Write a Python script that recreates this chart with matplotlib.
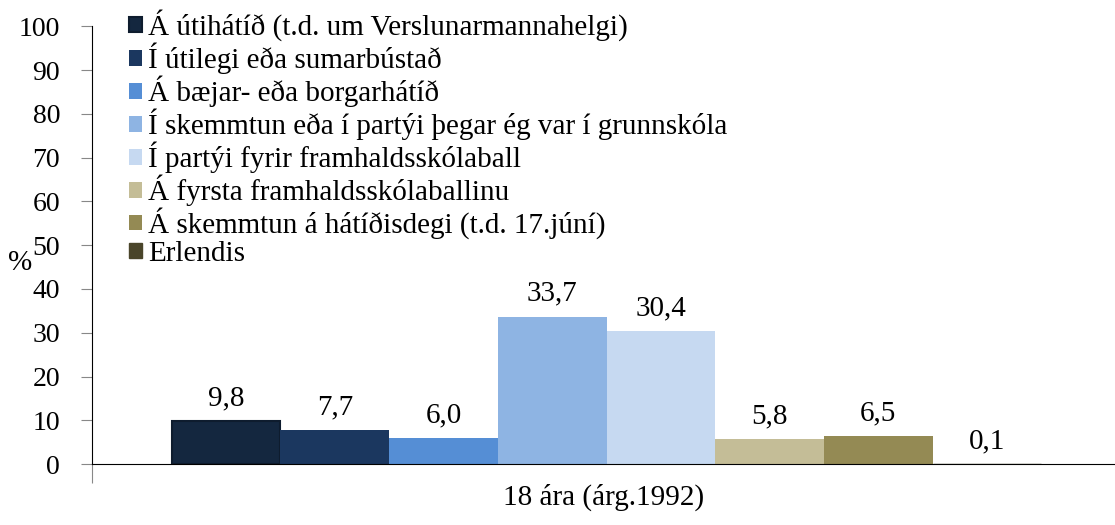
import matplotlib
matplotlib.use("Agg")
import matplotlib.pyplot as plt

# data
categories = [
    "Á útihátíð (t.d. um Verslunarmannahelgi)",
    "Í útilegi eða sumarbústað",
    "Á bæjar- eða borgarhátíð",
    "Í skemmtun eða í partýi þegar ég var í grunnskóla",
    "Í partýi fyrir framhaldsskólaball",
    "Á fyrsta framhaldsskólaballinu",
    "Á skemmtun á hátíðisdegi (t.d. 17.júní)",
    "Erlendis",
]
values = [9.8, 7.7, 6.0, 33.7, 30.4, 5.8, 6.5, 0.1]
group_label = "18 ára (árg.1992)"
yticks = list(range(0, 101, 10))

colors = ["#14273f", "#1b375f", "#558ed5", "#8eb4e3",
          "#c6d9f1", "#c4bd97", "#948a54", "#4a452a"]

plt.rcParams["font.family"] = ["Liberation Serif", "DejaVu Serif"]
FS = 21

fig = plt.figure(figsize=(11.15, 5.25), dpi=100)
ax = fig.add_axes([0.0825, 0.116, 0.9175, 0.834])

n = len(values)
w = 0.85 / n
for i, (lab, v, c) in enumerate(zip(categories, values, colors)):
    x = 0.003 + (i - (n - 1) / 2) * w
    ec = "#0e1c2e" if i == 0 else c
    lw = 1.5 if i == 0 else (1.0 if i == n - 1 else 0)
    ax.bar(x, v, width=w, color=c, edgecolor=ec, linewidth=lw,
           label=lab, zorder=2)
    ax.annotate(f"{v:.1f}".replace(".", ","), (x, v), xytext=(0, 7),
                textcoords="offset points", ha="center", va="bottom",
                fontsize=FS)

ax.set_xlim(-0.5, 0.5)
ax.set_ylim(0, 100)
ax.set_yticks(yticks)
ax.set_yticklabels([str(t) for t in yticks], fontsize=20)
ax.tick_params(axis="y", direction="out", length=8, color="#888888", pad=15)
ax.set_xticks([-0.5])
ax.set_xticklabels([""])
ax.tick_params(axis="x", direction="out", length=14, color="#888888")
ax.text(0.5, -0.075, group_label, transform=ax.transAxes, ha="center",
        va="center", fontsize=FS)
fig.text(0.018, 0.50, "%", fontsize=FS, ha="center", va="center")

for s in ["top", "right"]:
    ax.spines[s].set_visible(False)
ax.spines["left"].set_color("black")
ax.spines["bottom"].set_color("black")

ax.legend(loc="upper left", bbox_to_anchor=(0.025, 1.065), frameon=False,
          fontsize=FS, handlelength=0.45, handleheight=0.45, handletextpad=0.2,
          labelspacing=0.05, borderaxespad=0)

fig.savefig("out.png", dpi=100)
